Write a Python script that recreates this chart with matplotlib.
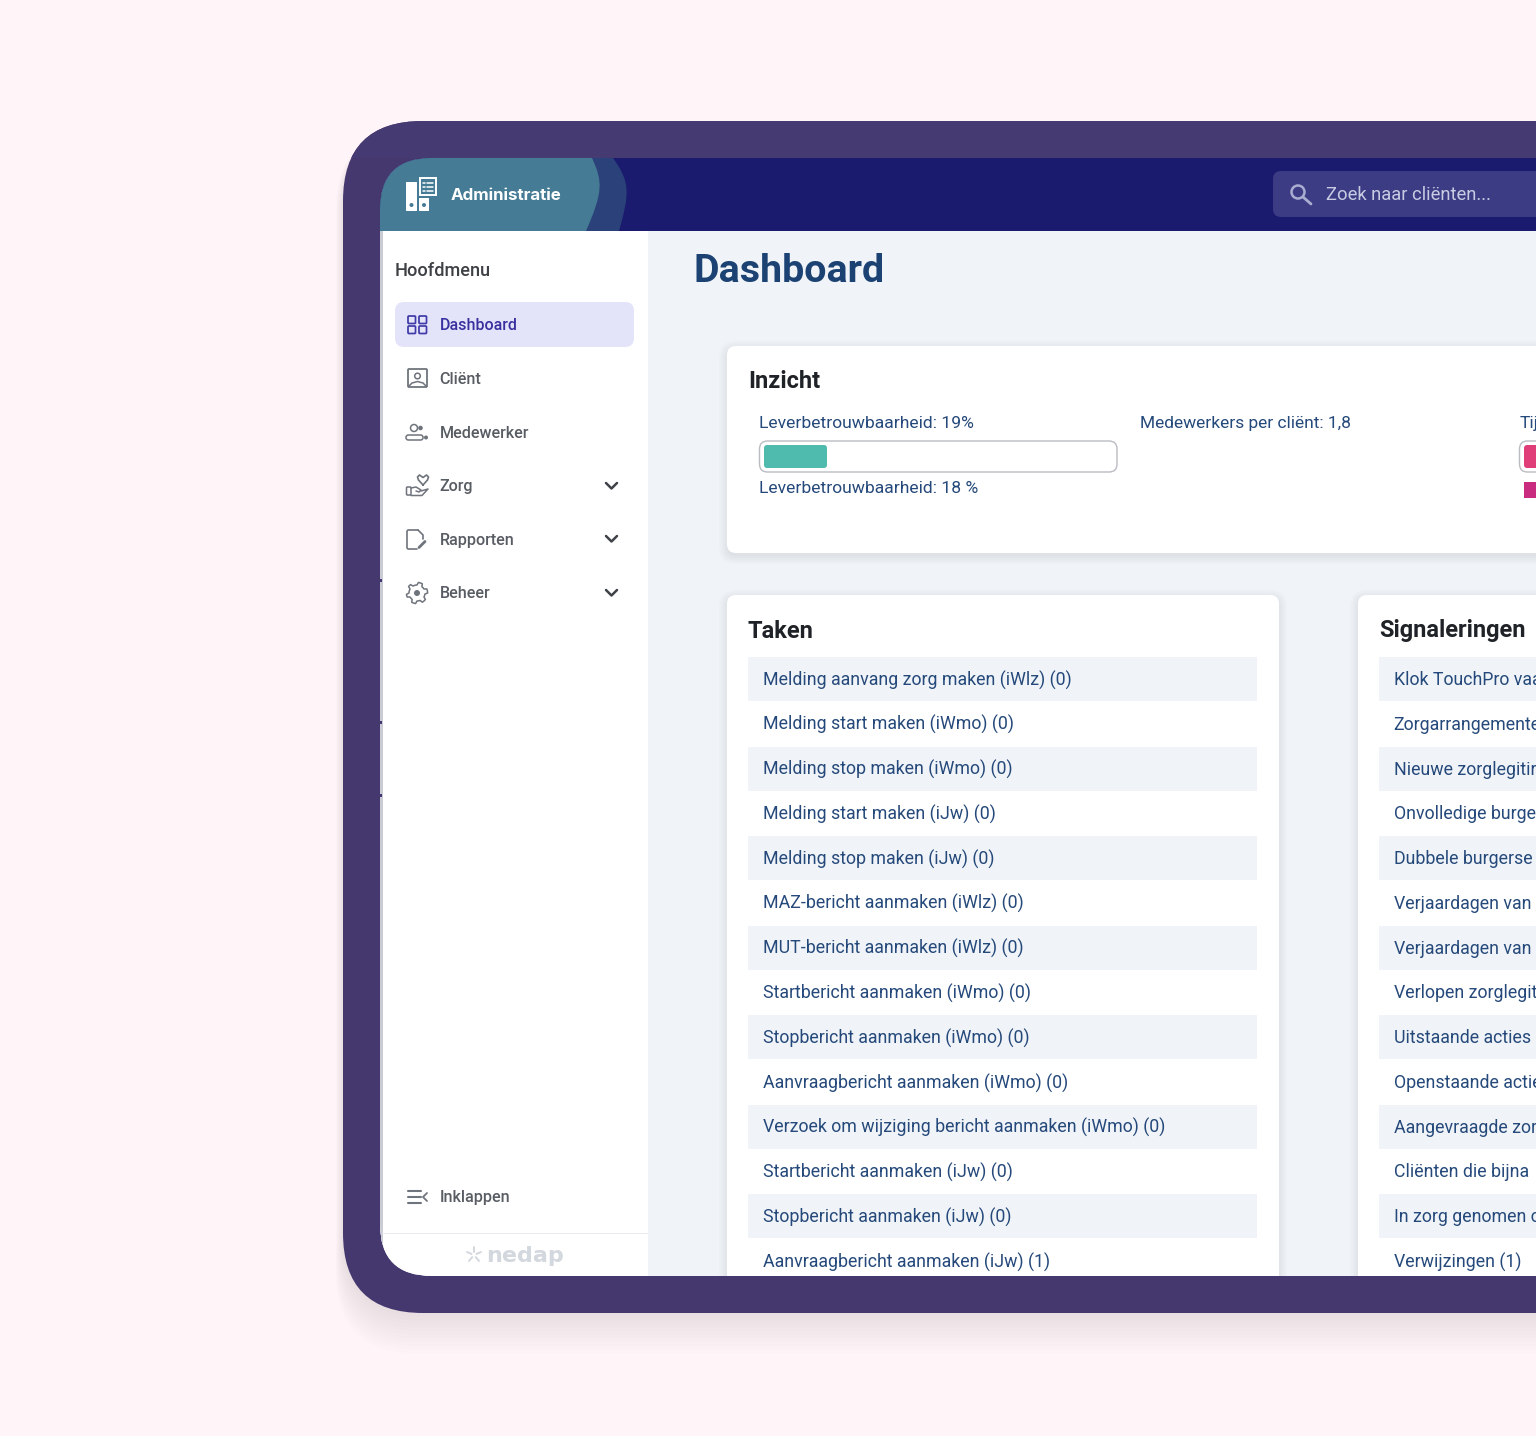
import numpy as np
import matplotlib
matplotlib.use("Agg")
import matplotlib.pyplot as plt
from matplotlib.patches import FancyBboxPatch, Rectangle, PathPatch, Circle, Polygon
from matplotlib.path import Path

plt.rcParams['font.family'] = ['Roboto', 'DejaVu Sans']

menu_items = ["Cliënt", "Medewerker", "Zorg", "Rapporten", "Beheer"]
menu_has_arrow = [False, False, True, True, True]
taken = [
    "Melding aanvang zorg maken (iWlz) (0)", "Melding start maken (iWmo) (0)",
    "Melding stop maken (iWmo) (0)", "Melding start maken (iJw) (0)",
    "Melding stop maken (iJw) (0)", "MAZ-bericht aanmaken (iWlz) (0)",
    "MUT-bericht aanmaken (iWlz) (0)", "Startbericht aanmaken (iWmo) (0)",
    "Stopbericht aanmaken (iWmo) (0)", "Aanvraagbericht aanmaken (iWmo) (0)",
    "Verzoek om wijziging bericht aanmaken (iWmo) (0)", "Startbericht aanmaken (iJw) (0)",
    "Stopbericht aanmaken (iJw) (0)", "Aanvraagbericht aanmaken (iJw) (1)",
]
# the reference shows these only up to the edge of the picture
signaleringen = [
    "Klok TouchPro vaa", "Zorgarrangemente", "Nieuwe zorglegitir", "Onvolledige burge",
    "Dubbele burgerse", "Verjaardagen van", "Verjaardagen van", "Verlopen zorglegit",
    "Uitstaande acties", "Openstaande actie", "Aangevraagde zor", "Cliënten die bijna",
    "In zorg genomen c", "Verwijzingen (1)",
]

BG = "#fff4f8"
FRAME = "#44386f"
NAVY = "#1a1a6e"
MAIN = "#f0f4f8"
LINK = "#25497a"
GREY = "#585c63"
ICON = "#6f747c"

fig = plt.figure(figsize=(15.36, 14.36), dpi=100, facecolor=BG)
ax = fig.add_axes([0, 0, 1, 1])
ax.set_xlim(0, 1536)
ax.set_ylim(1436, 0)
ax.axis("off")


def rrect(x0, y0, x1, y1, r, fc="none", ec="none", lw=0, z=1, alpha=None, clip=None):
    p = FancyBboxPatch((x0 + r, y0 + r), x1 - x0 - 2 * r, y1 - y0 - 2 * r,
                       boxstyle="round,pad=%f,rounding_size=%f" % (r, r),
                       fc=fc, ec=ec, lw=lw, zorder=z, alpha=alpha)
    ax.add_patch(p)
    if clip is not None:
        p.set_clip_path(clip)
    return p


def txt(x, y, s, size, color, weight="normal", z=6, family=None, clip=None):
    t = ax.text(x, y + 1, s, fontsize=size, color=color, weight=weight, va="center", ha="left",
                zorder=z, family=family or ['Roboto', 'DejaVu Sans'])
    if clip is not None:
        t.set_clip_path(clip)
    return t


def ln(xs, ys, color=ICON, lw=1.4, z=6):
    ax.plot(xs, ys, color=color, lw=lw, zorder=z, solid_capstyle="round", solid_joinstyle="round")


def lobe(x_top, cx, cy, x_bot, fc, z, clip):
    verts = [(370, 158), (x_top, 158), (cx, cy), (cx, cy + 10), (x_bot, 231), (370, 231), (370, 158)]
    codes = [Path.MOVETO, Path.LINETO, Path.CURVE4, Path.CURVE4, Path.CURVE4, Path.LINETO, Path.CLOSEPOLY]
    p = PathPatch(Path(verts, codes), fc=fc, ec="none", zorder=z)
    ax.add_patch(p)
    p.set_clip_path(clip)


# device frame and its soft shadow, mostly below
for i in range(12):
    g = 2.6 * i
    rrect(343 - g * 0.25, 130, 1700, 1313 + g * 1.4, 80, fc="#6b5a78", alpha=0.012, z=0.5)
frame = rrect(343, 121, 1700, 1313, 80, fc=FRAME, z=1)
r = Rectangle((340, 121), 1200, 37, fc="#463a72", ec="none", zorder=1.1)
ax.add_patch(r)
r.set_clip_path(frame)

# screen
screen = rrect(380, 158, 1700, 1276, 52, fc=MAIN, z=2)
r = Rectangle((380, 158), 1200, 73, fc=NAVY, ec="none", zorder=2.1)
ax.add_patch(r)
r.set_clip_path(screen)
r = Rectangle((380, 231), 268, 1060, fc="white", ec="none", zorder=2.2)
ax.add_patch(r)
r.set_clip_path(screen)
r = Rectangle((380, 231), 2.5, 1060, fc="#c9ccd4", ec="none", zorder=2.3)
ax.add_patch(r)
r.set_clip_path(screen)
for y in (580, 722, 795):
    ax.add_patch(Rectangle((380, y - 1.5), 1.5, 3, fc="#44386f", ec="none", zorder=2.4))

# header lobes
lobe(613, 630, 182, 619, "#2a4279", 2.4, screen)
lobe(592, 603, 182, 586, "#457b94", 2.5, screen)

# header logo
rrect(406, 182, 417, 211, 0.5, fc="white", z=5)
rrect(419, 198, 429, 211, 0.5, fc="white", z=5)
ax.add_patch(Circle((411.5, 205), 2, fc="#457b94", ec="none", zorder=6))
ax.add_patch(Circle((424, 205), 2, fc="#457b94", ec="none", zorder=6))
rrect(420, 178, 436, 195, 0, ec="white", lw=1.4, z=5)
for yy in (182.5, 186.5, 190.5):
    ln([423, 424.5], [yy, yy], "white", 1.1)
    ln([426.5, 433], [yy, yy], "white", 1.1)
txt(451, 194, "Administratie", 12.2, "white", "bold", family=["Inter", "DejaVu Sans"])

# search box
rrect(1273, 171, 1700, 217, 8, fc="#3c3c85", z=3)
ax.add_patch(Circle((1298, 192), 6.5, fc="none", ec="#a9adcf", lw=1.8, zorder=5))
ln([1303, 1311], [197, 204], "#a9adcf", 2)
txt(1326, 193.5, "Zoek naar cliënten...", 13.2, "#c8cbe2")

# sidebar
txt(395, 270, "Hoofdmenu", 13.1, "#3d4044", "medium")
rrect(395, 302, 634, 347, 9, fc="#e3e3fa", z=3)
for x0, y0 in ((408, 316), (419, 316), (408, 326), (419, 326)):
    rrect(x0, y0, x0 + 7.5, y0 + 7.5, 1, ec="#3f3aa8", lw=1.25, z=6)
txt(439.5, 324, "Dashboard", 11.5, "#39309f", "medium")

menu_y = [378, 432, 486, 539, 593]
for label, y, arrow in zip(menu_items, menu_y, menu_has_arrow):
    txt(439.5, y, label, 11.6, GREY, "medium")
    if arrow:
        ln([606, 611.5, 617], [y - 3, y + 2.5, y - 3], "#3f4349", 1.8)

# menu icons
rrect(408, 369, 427, 387, 1, ec=ICON, lw=1.3, z=6)
ax.add_patch(Circle((417.5, 376), 2.8, fc="none", ec=ICON, lw=1.1, zorder=6))
ln([409, 412, 417.5, 423, 426], [386, 383, 381.5, 383, 386], lw=1.1)

ax.add_patch(Circle((414, 428), 3.5, fc="none", ec=ICON, lw=1.1, zorder=6))
ax.add_patch(Circle((420.5, 428), 2.3, fc=ICON, ec="none", zorder=6))
rrect(406, 435, 423, 440, 2.4, ec=ICON, lw=1.1, z=6)
ax.add_patch(Circle((426, 437.5), 2, fc=ICON, ec="none", zorder=6))

heart_x = [423, 418.5, 417.5, 419.5, 423, 426.5, 428.5, 427.5, 423]
heart_y = [485, 480, 477, 475, 477.5, 475, 477, 480, 485]
ln(heart_x, heart_y, lw=1.2)
rrect(406.5, 487, 411, 495, 1, ec=ICON, lw=1.1, z=6)
ln([411, 416, 421, 419, 416], [488, 487, 490, 492, 491], lw=1.1)
ln([421, 428, 422, 411], [491, 489, 495.5, 495.5], lw=1.1)

ln([418, 408, 407, 407, 408, 417], [530, 530, 531, 548, 549, 549], lw=1.2)
ln([418, 423, 423], [530, 535, 539], lw=1.2)
ln([419, 425], [547.5, 541.5], lw=2)

ang = np.linspace(0, 2 * np.pi, 48, endpoint=False)
gear_r = 8 + 2.6 * (np.cos(6 * ang + np.pi / 2) > 0)
ax.add_patch(Polygon(np.c_[417 + gear_r * np.cos(ang), 593 + gear_r * np.sin(ang)], closed=True,
                     fc="none", ec=ICON, lw=1.1, joinstyle="round", zorder=6))
ax.add_patch(Circle((417, 593), 3, fc=ICON, ec="none", zorder=6))

for y in (1191, 1197, 1203):
    ln([408, 421], [y, y], ICON, 1.5)
ln([427, 423, 427], [1193, 1197, 1201], ICON, 1.3)
txt(439.5, 1196.5, "Inklappen", 11.6, GREY, "medium")
ax.add_patch(Rectangle((382, 1233), 266, 1.2, fc="#e8ebf1", ec="none", zorder=3))
for dx, dy in ((0, -8), (7, -3), (5, 6), (-5, 6), (-7, -3)):
    ln([474 + dx * 0.35, 474 + dx], [1255 + dy * 0.35, 1255 + dy], "#d3d7de", 1.4)
txt(486, 1254.5, "nedap", 16, "#d3d7de", "bold", family=["DejaVu Sans"])

# main title
txt(693, 271, "Dashboard", 28.4, "#1b4273", "bold")

# cards with shadow
cards = [(727, 346, 1700, 553), (727, 595, 1279, 1400), (1358, 595, 1700, 1400)]
for x0, y0, x1, y1 in cards:
    for i in range(6):
        g = 1.6 * i
        rrect(x0 - g, y0 + 3 - g, x1 + g, y1 + 3 + g, 9 + g, fc="#4a5568", alpha=0.016, z=3, clip=screen)
    rrect(x0, y0, x1, y1, 9, fc="white", z=3.2, clip=screen)

txt(748, 380, "Inzicht", 17, "#1f2226", "semibold")
txt(759, 422.5, "Leverbetrouwbaarheid: 19%", 12.6, LINK)
txt(759, 487.5, "Leverbetrouwbaarheid: 18 %", 12.6, LINK)
txt(1139.5, 422.5, "Medewerkers per cliënt: 1,8", 12.5, LINK)
txt(1519.5, 422.5, "Tij", 12.6, LINK)
rrect(759.5, 441, 1117, 472, 8, fc="white", ec="#b9bcc2", lw=1, z=4)
rrect(764, 445, 827, 468, 3, fc="#4fbaae", z=5)
rrect(1519.5, 441, 1700, 472, 8, fc="white", ec="#b9bcc2", lw=1, z=4)
rrect(1524, 445, 1600, 468, 3, fc="#e03e78", z=5)
ax.add_patch(Rectangle((1524, 482), 20, 16, fc="#c92c7e", ec="none", zorder=5))

txt(748, 630, "Taken", 17, "#1f2226", "semibold")
txt(1379, 630, "Signaleringen", 17, "#1f2226", "semibold")

# task rows
for col_x0, col_x1, rows in ((748, 1257, taken), (1379, 1700, signaleringen)):
    for i, label in enumerate(rows):
        yc = 679 + 44.77 * i
        if i % 2 == 0:
            ax.add_patch(Rectangle((col_x0, yc - 22), col_x1 - col_x0, 44, fc=MAIN, ec="none", zorder=4))
        txt(col_x0 + 14.7, yc, label, 12.75, LINK, clip=screen)

fig.savefig("out.png", dpi=100, facecolor=BG)
